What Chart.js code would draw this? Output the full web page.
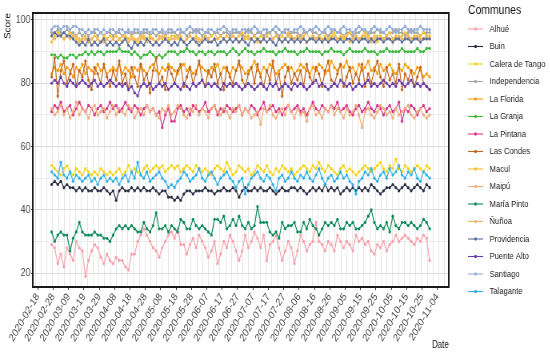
<!DOCTYPE html>
<html>
<head>
<meta charset="utf-8">
<script src="https://cdn.jsdelivr.net/npm/chart.js@4.4.1/dist/chart.umd.min.js"></script>
<style>
  html, body { margin: 0; padding: 0; background: #fff; overflow: hidden; }
  /* the original figure is squeezed horizontally, so draw wider and scale down */
  #wrap { width: 688px; height: 355px; transform: scaleX(0.8); transform-origin: 0 0; }
</style>
</head>
<body>
<div id="wrap"><canvas id="grafico" width="688" height="355"></canvas></div>
<script>
// Fechas: el eje cuenta días desde axisStart, una medición cada 2 días desde firstDate
const axisStart = '2020-02-18';
const firstDate = '2020-02-27';
const stepDays = 2;

const xTickLabels = ['2020-02-18', '2020-02-28', '2020-03-09', '2020-03-19', '2020-03-29', '2020-04-08',
    '2020-04-18', '2020-04-28', '2020-05-08', '2020-05-18', '2020-05-28', '2020-06-07', '2020-06-17',
    '2020-06-27', '2020-07-07', '2020-07-17', '2020-07-27', '2020-08-06', '2020-08-16', '2020-08-26',
    '2020-09-05', '2020-09-15', '2020-09-25', '2020-10-05', '2020-10-15', '2020-10-25', '2020-11-04'];
const yTicks = [20, 30, 40, 50, 60, 70, 80, 90, 100];

const communes = ['Alhué', 'Buin', 'Calera de Tango', 'Independencia', 'La Florida', 'La Granja',
    'La Pintana', 'Las Condes', 'Macul', 'Maipú', 'María Pinto', 'Ñuñoa', 'Providencia',
    'Puente Alto', 'Santiago', 'Talagante'];

const alhue = [29,28,23,26,22,28,26,24,30,28,27,19,24,27,29,28,25,23,26,24,
    23,25,24,24,22,21,26,26,30,32,34,32,30,28,27,25,28,30,32,33,
    31,34,29,29,26,29,31,28,32,30,28,25,27,30,23,26,30,28,32,30,
    27,24,27,32,28,30,33,31,28,32,24,29,30,32,28,24,27,30,28,23,
    27,32,30,27,29,30,36,30,29,27,30,29,27,32,30,28,30,29,27,32,
    30,31,29,30,27,26,29,28,30,27,29,30,32,30,31,32,31,30,29,31,30,32,31,24];
const buin = [48,49,48,49,47,48,47,47,46,47,46,47,46,46,47,46,46,47,46,45,
    46,43,46,47,46,46,47,46,47,46,47,46,46,47,46,45,46,46,44,44,
    43,44,43,45,46,46,45,46,46,46,47,46,46,45,46,46,47,46,46,47,
    46,44,46,47,46,46,47,46,47,46,46,47,46,45,46,47,46,46,47,47,
    46,47,46,45,46,47,46,47,46,48,46,47,46,47,45,46,47,46,47,46,
    47,46,47,46,48,47,46,45,46,47,47,48,47,46,47,48,47,46,47,48,47,46,48,47];
const caleraDeTango = [54,53,52,51,53,54,52,51,53,52,51,53,52,51,52,51,53,52,51,52,
    51,52,53,51,52,54,52,53,52,51,53,54,52,53,54,53,54,52,53,54,
    53,54,52,53,54,53,52,54,53,52,53,52,51,53,54,53,52,55,53,51,
    52,54,53,52,53,51,52,54,53,52,54,52,51,53,52,54,53,52,53,51,
    52,53,54,53,52,54,53,55,53,52,54,53,52,51,53,54,52,53,52,51,
    52,53,54,53,52,53,54,55,53,52,54,53,56,53,52,54,53,52,53,54,53,52,54,53];
const independencia = [96,96,97,96,96,97,96,96,95,96,95,96,95,96,96,95,96,95,96,96,
    95,96,96,95,96,96,95,96,96,95,96,96,95,96,95,96,96,95,96,96,
    96,95,96,96,95,96,96,97,96,95,96,96,95,96,96,95,96,96,95,96,
    96,96,95,96,97,96,95,96,96,95,96,96,97,96,95,96,96,95,96,96,
    96,95,96,96,97,96,96,95,96,96,95,96,97,96,96,95,96,96,95,96,
    96,97,96,95,96,96,97,96,96,95,96,96,97,96,96,95,96,97,96,96,95,96,96,96];
const laFlorida = [83,85,84,86,83,85,84,82,85,84,86,83,85,84,83,86,84,85,83,84,
    85,84,86,83,85,84,82,85,84,86,84,83,85,86,84,83,85,84,86,85,
    84,83,85,86,84,85,83,84,86,85,84,83,85,84,86,83,85,84,83,85,
    84,86,85,83,84,85,87,84,83,85,84,86,85,83,84,85,86,84,85,83,
    84,86,85,84,83,85,84,86,85,83,84,87,85,84,86,85,87,84,85,83,
    86,84,85,87,84,85,83,86,84,85,86,84,83,85,84,86,85,84,83,85,84,82,83,82];
const laGranja = [89,89,88,89,88,88,89,89,88,89,89,90,89,90,89,90,90,89,90,90,
    90,90,91,90,90,90,89,90,89,88,89,89,90,89,88,89,88,89,90,90,
    90,89,90,90,91,90,90,89,90,90,89,90,90,89,90,90,90,89,90,91,
    90,89,90,91,90,90,89,90,90,91,90,90,90,89,90,90,91,90,90,90,
    89,90,90,91,90,90,90,90,89,90,90,91,90,90,90,89,90,91,90,90,
    90,90,91,90,90,90,89,90,90,91,90,90,90,90,91,90,90,90,90,91,90,90,91,91];
const laPintana = [71,73,72,74,71,72,73,70,72,74,72,71,73,72,70,72,73,71,72,74,
    72,73,71,72,74,72,71,73,72,70,72,73,71,72,70,71,66,70,72,68,
    68,72,73,71,72,70,73,72,71,72,74,71,72,73,70,72,71,73,72,71,
    72,73,70,72,71,73,72,70,72,74,71,72,73,71,72,70,72,73,71,72,
    73,71,72,70,72,74,72,71,73,72,71,73,72,74,71,72,73,71,70,72,
    73,71,72,74,72,71,73,72,70,72,73,71,72,74,68,72,71,73,72,70,72,73,71,72];
const lasCondes = [82,88,76,84,87,80,83,86,79,84,82,87,81,78,85,83,80,86,82,79,
    84,81,87,80,83,78,85,82,79,86,81,83,77,84,88,80,82,78,85,83,
    80,84,86,79,82,85,80,83,87,81,79,84,82,86,80,83,78,85,82,80,
    84,87,81,79,83,85,80,86,82,79,84,81,87,80,83,76,82,85,80,83,
    81,84,79,86,82,80,85,83,79,84,87,81,80,83,86,79,82,85,80,83,
    81,86,79,83,80,84,87,82,79,85,81,83,80,86,78,83,81,84,79,82,85,80,79,78];
const macul = [93,95,96,95,94,95,96,95,94,93,94,95,93,94,95,94,93,95,94,95,
    94,95,94,93,95,94,95,94,93,94,95,94,95,94,93,95,94,95,94,95,
    95,94,95,93,94,95,94,95,94,93,95,94,95,96,94,95,94,95,94,95,
    94,95,96,94,95,94,95,93,95,94,95,96,94,95,94,95,94,96,95,94,
    95,94,95,96,94,95,94,95,93,95,94,95,96,94,95,94,95,96,94,95,
    94,95,96,95,94,95,93,95,94,95,96,94,95,94,95,96,95,94,95,94,95,96,95,95];
const maipu = [72,70,71,73,70,72,69,71,74,70,72,71,69,72,73,70,71,72,69,71,
    73,70,72,71,70,73,72,69,71,72,70,73,71,72,70,69,72,71,73,70,
    71,73,72,70,69,72,71,73,70,72,71,69,72,73,71,70,72,71,69,72,
    71,73,70,72,71,69,70,71,67,72,71,73,70,69,71,72,70,73,71,69,
    72,70,71,68,72,73,70,71,69,72,71,73,70,72,71,69,72,70,71,73,
    70,66,71,72,70,69,71,73,72,70,71,69,72,70,71,72,73,70,69,71,72,70,69,70];
const mariaPinto = [33,30,32,33,32,32,27,31,33,36,33,32,32,32,33,32,32,31,31,30,
    32,34,35,34,35,34,35,34,33,33,36,34,33,35,39,34,34,35,33,35,
    34,33,37,36,34,34,37,35,34,35,34,33,32,37,37,36,38,34,35,37,
    35,38,35,34,36,34,35,41,36,36,36,33,32,33,31,36,34,35,35,36,
    33,33,36,34,37,35,34,32,34,36,35,36,35,37,34,34,36,35,36,34,
    34,35,36,38,40,36,34,35,34,36,33,38,35,34,36,36,35,36,35,34,35,37,36,34];
const nunoa = [95,94,95,95,94,95,94,95,95,94,93,94,93,94,93,94,93,93,94,93,
    94,93,94,95,94,93,94,93,94,95,94,93,94,94,93,94,95,94,93,94,
    94,95,94,93,94,95,94,94,93,94,95,94,93,94,94,95,94,93,94,95,
    94,93,94,95,94,94,95,94,93,94,95,94,94,95,94,93,94,95,94,94,
    95,94,94,93,94,95,94,95,94,94,93,94,95,94,94,95,94,93,94,95,
    94,94,95,94,93,94,95,94,94,95,94,93,94,95,94,94,95,94,94,95,94,94,95,94];
const providencia = [95,96,95,95,96,95,95,94,93,92,93,92,94,92,93,92,93,94,92,93,
    92,93,92,93,94,92,91,93,92,93,92,94,93,92,93,92,93,94,93,92,
    93,92,94,93,92,93,94,93,92,93,94,93,93,94,92,93,94,93,94,93,
    94,93,94,93,92,94,93,94,93,94,93,94,93,92,94,93,94,93,94,93,
    94,93,94,93,94,94,93,94,93,94,93,94,94,93,94,93,94,94,93,94,
    93,94,94,93,94,93,94,94,93,94,94,93,94,94,93,94,94,93,94,94,93,94,94,94];
const puenteAlto = [80,81,80,82,80,79,81,80,79,80,81,80,79,80,81,79,80,79,80,81,
    80,79,80,79,80,78,79,77,76,79,80,79,80,78,79,80,79,80,78,79,
    80,79,78,80,79,78,80,79,80,81,79,80,79,80,79,78,80,79,80,79,
    80,79,78,79,80,79,78,79,80,79,78,80,79,80,78,79,80,79,78,80,
    79,80,79,78,79,80,81,79,80,79,78,79,80,79,81,80,79,80,78,79,
    80,79,80,81,79,80,79,80,81,80,79,80,79,81,80,79,80,81,79,80,79,80,79,78];
const santiago = [97,98,98,97,98,98,97,98,98,97,97,96,97,96,97,97,96,97,96,97,
    97,96,97,97,96,97,96,97,97,96,97,97,96,97,97,96,97,96,97,97,
    96,97,97,96,97,98,97,96,97,97,96,97,97,96,97,97,98,97,96,97,
    97,96,97,97,96,97,98,97,96,97,97,96,97,98,97,96,97,97,96,97,
    97,98,97,96,97,97,98,97,96,97,98,97,97,96,97,98,97,97,96,97,
    98,97,97,96,97,98,97,97,96,97,98,97,96,97,97,98,97,96,97,97,98,97,97,97];
const talagante = [52,51,50,55,51,50,52,49,51,50,49,50,51,49,50,48,50,51,49,50,
    49,50,48,50,51,49,52,50,55,51,50,52,49,50,51,52,50,49,47,48,
    47,49,50,52,51,49,50,51,53,50,49,51,52,50,48,50,51,52,50,49,
    47,49,50,45,48,50,51,52,50,49,51,50,48,46,50,51,49,50,52,50,
    49,51,50,52,50,49,51,53,50,48,50,51,49,50,52,50,51,49,48,45,
    49,50,52,51,53,50,49,51,52,50,53,51,52,54,51,50,52,51,53,50,49,52,51,50];

const seriesValues = [alhue, buin, caleraDeTango, independencia, laFlorida, laGranja, laPintana,
    lasCondes, macul, maipu, mariaPinto, nunoa, providencia, puenteAlto, santiago, talagante];
const colores = ['#f7a1aa', '#2b2d42', '#f3d414', '#a3a3a3', '#f59d0a', '#3cb83c', '#d9378a', '#c2661e',
    '#f7c02e', '#efab7a', '#0b8a5a', '#ecb565', '#5a6d9e', '#6a3da8', '#93addb', '#2eb1ea'];

// días desde el inicio del eje
function dayOffset(fecha) {
    return Math.round((Date.parse(fecha) - Date.parse(axisStart)) / 86400000);
}
const firstDay = dayOffset(firstDate);

const datasets = communes.map((nombre, i) => ({
    label: nombre,
    data: seriesValues[i].map((v, k) => ({ x: firstDay + k * stepDays, y: v })),
    borderColor: colores[i],
    backgroundColor: colores[i],
    pointBackgroundColor: colores[i],
    borderWidth: 1.15,
    pointRadius: 1.6,
    pointBorderWidth: 0,
    order: -i
}));

const fuente = '"Liberation Sans", Arial, sans-serif';

// leyenda al estilo ggplot, dibujada a mano a la derecha
const leyendaComunas = {
    id: 'leyendaComunas',
    afterDraw(chart) {
        const ctx = chart.ctx;
        ctx.save();
        ctx.textBaseline = 'middle';
        ctx.fillStyle = '#111';
        ctx.font = '13px ' + fuente;
        ctx.fillText('Communes', 585, 10);
        ctx.font = '9.5px ' + fuente;
        chart.data.datasets.forEach((ds, i) => {
            const y = 29 + i * 17.5;
            ctx.strokeStyle = ds.borderColor;
            ctx.lineWidth = 1.1;
            ctx.beginPath();
            ctx.moveTo(585, y);
            ctx.lineTo(604, y);
            ctx.stroke();
            ctx.fillStyle = ds.borderColor;
            ctx.beginPath();
            ctx.arc(594.5, y, 1.7, 0, Math.PI * 2);
            ctx.fill();
            ctx.fillStyle = '#1a1a1a';
            ctx.fillText(ds.label, 612, y);
        });
        ctx.restore();
    }
};

// marco negro alrededor del panel
const marcoPanel = {
    id: 'marcoPanel',
    afterDatasetsDraw(chart) {
        const a = chart.chartArea;
        const ctx = chart.ctx;
        ctx.save();
        ctx.strokeStyle = '#1a1a1a';
        ctx.lineWidth = 2;
        ctx.strokeRect(a.left, a.top, a.right - a.left, a.bottom - a.top);
        ctx.restore();
    }
};

const ctx = document.getElementById('grafico').getContext('2d');
const grafico = new Chart(ctx, {
    type: 'line',
    data: { datasets: datasets },
    options: {
        responsive: false,
        animation: false,
        devicePixelRatio: 1,
        layout: { padding: { left: 0, right: 127, top: 13, bottom: 0 } },
        plugins: { legend: { display: false }, tooltip: { enabled: false } },
        scales: {
            x: {
                type: 'linear',
                min: -3.25,
                max: 267.45,
                afterBuildTicks: s => { s.ticks = xTickLabels.map((t, i) => ({ value: i * 10 })); },
                afterFit: s => { s.height = 68; },
                ticks: {
                    autoSkip: false,
                    minRotation: 54,
                    maxRotation: 54,
                    padding: 1,
                    color: '#444',
                    font: { family: fuente, size: 11 },
                    callback: (v, i) => xTickLabels[i]
                },
                grid: { drawOnChartArea: false, tickLength: 3, tickColor: '#333' },
                border: { display: false },
                title: { display: true, text: 'Date', align: 'end', color: '#111', font: { family: fuente, size: 10 } }
            },
            xg: {
                type: 'linear',
                position: 'bottom',
                min: -3.25,
                max: 267.45,
                afterBuildTicks: s => {
                    const t = [];
                    for (let d = -1.5; d < 267; d += 3.75) t.push({ value: d });
                    s.ticks = t;
                },
                afterFit: s => { s.height = 0; },
                ticks: { display: false },
                grid: { color: '#e6e6e6', lineWidth: 1, drawTicks: false },
                border: { display: false }
            },
            y: {
                min: 15.6,
                max: 102.2,
                afterBuildTicks: s => { s.ticks = yTicks.map(v => ({ value: v })); },
                afterFit: s => { s.width = 41; },
                ticks: {
                    padding: 1,
                    color: '#444',
                    font: { family: fuente, size: 11 },
                    callback: v => (v % 20 === 0 ? String(v) : '')
                },
                grid: {
                    color: c => (c.tick && c.tick.value % 20 === 0 ? '#dcdcdc' : '#ebebeb'),
                    tickLength: 2,
                    tickColor: c => (c.tick && c.tick.value % 20 === 0 ? '#333' : 'rgba(0,0,0,0)')
                },
                border: { display: false },
                title: { display: true, text: 'Score', align: 'end', color: '#111', font: { family: fuente, size: 10 } }
            }
        }
    },
    plugins: [leyendaComunas, marcoPanel]
});
</script>
</body>
</html>
